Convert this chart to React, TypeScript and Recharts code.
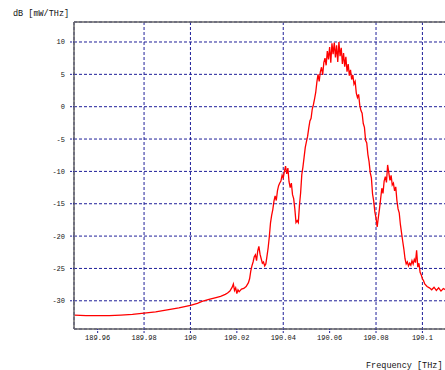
import React from 'react';
import {
  LineChart, Line, XAxis, YAxis, CartesianGrid, ReferenceLine,
} from 'recharts';

// ── spectrum trace ───────────────────────────────────────────
const freq = [
  189.95, 189.955, 189.96, 189.965, 189.97, 189.975, 189.98, 189.985, 189.99, 189.995,
  190.0, 190.003, 190.005, 190.008, 190.011, 190.013, 190.015, 190.016, 190.017, 190.018,
  190.0185, 190.019, 190.0195, 190.02, 190.0205, 190.021, 190.022, 190.023, 190.024, 190.025,
  190.0255, 190.026, 190.0265, 190.027, 190.0275, 190.028, 190.0285, 190.029, 190.0295, 190.03,
  190.0305, 190.031, 190.0315, 190.032, 190.0325, 190.033, 190.0335, 190.034, 190.0345, 190.035,
  190.0355, 190.036, 190.0365, 190.037, 190.0375, 190.038, 190.0385, 190.039, 190.0395, 190.04,
  190.0405, 190.041, 190.0415, 190.042, 190.0425, 190.043, 190.0435, 190.044, 190.0445, 190.045,
  190.0455, 190.046, 190.0465, 190.047, 190.0475, 190.048, 190.0485, 190.049, 190.0495, 190.05,
  190.0505, 190.051, 190.0515, 190.052, 190.0525, 190.053, 190.0535, 190.054, 190.0545, 190.055,
  190.0555, 190.056, 190.0565, 190.057, 190.0575, 190.058, 190.0585, 190.059, 190.0595, 190.06,
  190.0605, 190.061, 190.0615, 190.062, 190.0625, 190.063, 190.0635, 190.064, 190.0645, 190.065,
  190.0655, 190.066, 190.0665, 190.067, 190.0675, 190.068, 190.0685, 190.069, 190.0695, 190.07,
  190.0705, 190.071, 190.0715, 190.072, 190.0725, 190.073, 190.0735, 190.074, 190.0745, 190.075,
  190.0755, 190.076, 190.0765, 190.077, 190.0775, 190.078, 190.0785, 190.079, 190.0795, 190.08,
  190.0805, 190.081, 190.0815, 190.082, 190.0825, 190.083, 190.0835, 190.084, 190.0845, 190.085,
  190.0855, 190.086, 190.0865, 190.087, 190.0875, 190.088, 190.0885, 190.089, 190.0895, 190.09,
  190.0905, 190.091, 190.0915, 190.092, 190.0925, 190.093, 190.0935, 190.094, 190.0945, 190.095,
  190.0955, 190.096, 190.0965, 190.097, 190.0975, 190.098, 190.0985, 190.099, 190.0995, 190.1,
  190.1005, 190.101, 190.102, 190.103, 190.104, 190.105, 190.106, 190.107, 190.108, 190.109,
  190.11, 190.112,
];

const level = [
  -32.2, -32.3, -32.3, -32.3, -32.2, -32.1, -31.9, -31.7, -31.4, -31.1,
  -30.7, -30.4, -30.1, -29.8, -29.5, -29.3, -29.0, -28.8, -28.5, -27.9,
  -27.4, -28.4, -28.0, -28.9, -28.3, -28.6, -28.2, -28.1, -27.8, -27.2,
  -26.6, -25.4, -24.6, -24.0, -23.2, -22.9, -23.8, -22.3, -21.6, -22.8,
  -23.5, -24.2, -24.0, -24.6, -24.3, -23.1, -21.8, -20.1, -18.0, -16.8,
  -15.9, -14.6, -13.8, -14.5, -13.0, -12.2, -11.8, -11.5, -10.6, -11.0,
  -10.0, -9.2, -10.4, -9.5, -11.6, -12.5, -11.8, -13.6, -14.2, -15.8,
  -17.9, -17.6, -17.9, -15.2, -13.3, -10.5, -9.3, -7.8, -6.3, -5.4,
  -4.6, -3.3, -2.2, -1.8, -0.4, 0.3, 1.2, 2.2, 3.8, 5.0,
  3.9, 5.4, 6.1, 4.9, 6.8, 7.5, 6.4, 8.6, 7.3, 9.2,
  6.8, 9.8, 8.1, 9.9, 7.6, 9.5, 6.9, 10.0, 7.8, 9.1,
  6.6, 8.3, 6.2, 7.7, 5.4, 6.6, 4.8, 5.7, 4.2, 4.9,
  3.5, 3.9, 2.1, 1.4, 1.9, 0.2, -0.6, -1.0, -2.6, -3.2,
  -5.2, -5.6, -7.4, -8.5, -10.2, -11.0, -13.5, -14.6, -16.3, -17.2,
  -18.6, -17.1, -15.8, -14.2, -12.6, -13.4, -11.5, -10.8, -11.7, -9.0,
  -10.2, -11.4, -10.6, -12.1, -11.8, -13.0, -12.4, -14.5, -15.8, -16.4,
  -18.2, -19.5, -20.8, -22.0, -23.5, -24.3, -24.0, -24.6, -24.2, -24.5,
  -23.8, -24.3, -23.6, -24.1, -22.2, -24.8, -24.2, -25.6, -26.0, -26.6,
  -26.9, -27.4, -27.8, -28.0, -28.3, -27.9, -28.4, -28.0, -28.5, -28.1,
  -28.3, -28.2,
];

const xTicks = [189.96, 189.98, 190, 190.02, 190.04, 190.06, 190.08, 190.1];
const yTicks = [-30, -25, -20, -15, -10, -5, 0, 5, 10];

// plot runs past the right edge of the picture, so the chart is wider than the window
const X_DOMAIN = [189.9498, 190.1162];
const Y_DOMAIN = [-34.36, 13.09];

const GRID = '#1f1f99';
const FRAME = '#666666';
const FONT = '"Liberation Mono", "DejaVu Sans Mono", monospace';

const fmtFreq = (v: number) => String(Number(v.toFixed(2)));

const App = () => {
  const data = freq.map((f, i) => ({ freq: f, level: level[i] }));
  const tickStyle = { fill: '#111', fontSize: 7, fontFamily: FONT };

  return (
    <div style={{ position: 'absolute', left: 0, top: 0, width: 445, height: 370, background: '#fff', overflow: 'hidden' }}>
      <div style={{ position: 'absolute', left: 13, top: 9, fontFamily: FONT, fontSize: 8.5, color: '#111', whiteSpace: 'pre' }}>
        dB [mW/THz]
      </div>
      <div style={{ position: 'absolute', left: 366, top: 361, fontFamily: FONT, fontSize: 8.5, color: '#111', whiteSpace: 'pre' }}>
        Frequency [THz]
      </div>
      <LineChart width={460} height={370} data={data} margin={{ top: 22, right: 0, left: 0, bottom: 21 }}>
        <CartesianGrid stroke={GRID} strokeDasharray="3 2" />
        <XAxis
          dataKey="freq"
          type="number"
          domain={X_DOMAIN}
          ticks={xTicks}
          allowDataOverflow
          tickFormatter={fmtFreq}
          height={20}
          tick={tickStyle}
          tickSize={4}
          tickMargin={2}
          tickLine={{ stroke: GRID, strokeDasharray: '2 1' }}
          axisLine={{ stroke: FRAME, strokeWidth: 1.5 }}
        />
        <YAxis
          type="number"
          domain={Y_DOMAIN}
          ticks={yTicks}
          allowDataOverflow
          width={74}
          tick={tickStyle}
          tickSize={4}
          tickMargin={5}
          tickLine={{ stroke: GRID, strokeDasharray: '2 1' }}
          axisLine={{ stroke: FRAME, strokeWidth: 1.5 }}
        />
        <ReferenceLine y={Y_DOMAIN[1]} stroke={FRAME} strokeWidth={1.5} />
        <Line
          type="linear"
          dataKey="level"
          stroke="#ff0000"
          strokeWidth={1.3}
          dot={false}
          isAnimationActive={false}
        />
      </LineChart>
    </div>
  );
};

export default App;
